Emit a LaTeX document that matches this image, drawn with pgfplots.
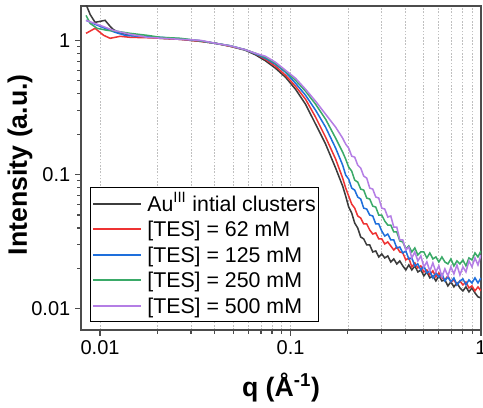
\documentclass[border=0pt]{standalone}
\usepackage{fontspec}
\setmainfont{Liberation Sans}
\usepackage{pgfplots}
\pgfplotsset{compat=1.18}
\definecolor{cBlack}{HTML}{3C3C3C}
\definecolor{cRed}{HTML}{EE3333}
\definecolor{cBlue}{HTML}{1E6FDC}
\definecolor{cGreen}{HTML}{3AAA68}
\definecolor{cPurple}{HTML}{B47EE5}
\begin{document}
\begin{tikzpicture}
\begin{axis}[
  scale only axis, width=300pt, height=243pt,
  xmode=log, ymode=log,
  xmin=0.00794, xmax=1, ymin=0.00698, ymax=1.805,
  xtick={0.01,0.1,1}, xticklabels={0.01,0.1,1},
  ytick={0.01,0.1,1}, yticklabels={0.01,0.1,1},
  /pgf/number format/assume math mode=true,
  tick pos=left, tick align=outside,
  major tick length=4.5pt, minor tick length=2.8pt,
  every tick/.style={black!70, line width=0.9pt},
  axis line style={black!70, line width=1.3pt},
  xminorgrids=true,
  minor x grid style={black!25, line width=0.5pt, dash pattern=on 1.2pt off 1.2pt},
  ticklabel style={font=\fontsize{15}{18}\selectfont},
  xlabel={\textbf{q (Å\textsuperscript{-1})}},
  ylabel={\textbf{Intensity (a.u.)}},
  label style={font=\fontsize{20}{24}\selectfont},
  xlabel style={at={(axis description cs:0.5,-0.178)}, anchor=center},
  ylabel style={at={(axis description cs:-0.1525,0.51)}, anchor=center},
  legend cell align=left,
  legend style={at={(axis description cs:0,0)}, anchor=south west,
    xshift=6.75pt, yshift=6pt, draw=black, line width=0.6pt,
    font=\fontsize{16}{18}\selectfont,
    inner xsep=1.5pt, inner ysep=2.5pt, row sep=0.5pt, column sep=3pt,
    nodes={inner sep=0.7pt, text height=14.25pt, text depth=3pt}},
  legend image code/.code={\draw[#1, line width=1.5pt] (0pt,0pt) -- (36pt,0pt);},
  every axis plot/.append style={line width=1.15pt},
]
\addplot[cBlack] coordinates {
(0.00844,1.852) (0.00886,1.561) (0.00941,1.361) (0.0100,1.384) (0.01062,1.409) (0.01129,1.271) (0.01171,1.207) (0.01244,1.147) (0.01321,1.127) (0.01438,1.089) (0.01624,1.071) (0.02069,1.035) (0.02637,1.017) (0.0336,0.983) (0.0403,0.950) (0.04833,0.902) (0.05797,0.843) (0.06542,0.780) (0.07386,0.704) (0.0834,0.619) (0.09413,0.531) (0.1062,0.432) (0.1199,0.334) (0.1354,0.2374) (0.1528,0.1686) (0.1725,0.1118) (0.1878,0.0821)
(0.1948,0.0692) (0.2020,0.0573) (0.2095,0.0517) (0.2172,0.0436) (0.2253,0.0400) (0.2336,0.0343) (0.2422,0.0332) (0.2512,0.02993) (0.2605,0.02993) (0.2702,0.02655) (0.2802,0.02701) (0.2905,0.02437) (0.3013,0.02565) (0.3124,0.02396) (0.3240,0.02479) (0.3360,0.02237) (0.3484,0.02355) (0.3613,0.02162) (0.3747,0.02276) (0.3886,0.02089) (0.4030,0.01951) (0.4179,0.02125) (0.4333,0.01951) (0.4494,0.02089) (0.4660,0.01885) (0.4833,0.01951) (0.5012,0.01761) (0.5197,0.01885) (0.5389,0.01701) (0.5589,0.01761) (0.5796,0.01616) (0.6010,0.01761) (0.6233,0.01616) (0.6463,0.01644) (0.6703,0.01484) (0.6951,0.01589) (0.7208,0.01458) (0.7475,0.01562) (0.7752,0.01434) (0.8039,0.01362) (0.8337,0.01458) (0.8645,0.01339) (0.8965,0.01434) (0.9297,0.01316) (0.9641,0.01229) (1.0,0.01208)
};
\addlegendentry{Au\textsuperscript{III} intial clusters\hspace{6.5pt}}
\addplot[cRed] coordinates {
(0.00844,1.127) (0.00941,1.228) (0.01044,1.089) (0.01129,1.035) (0.01274,1.071) (0.01438,1.053) (0.01833,1.044) (0.02069,1.035) (0.02637,1.017) (0.0336,0.983) (0.0403,0.950) (0.04833,0.902) (0.05797,0.850) (0.06542,0.794) (0.07386,0.722) (0.0834,0.641) (0.09413,0.549) (0.1062,0.455) (0.1199,0.364) (0.1354,0.2676) (0.1528,0.1900) (0.1725,0.1304) (0.1878,0.0942)
(0.1948,0.0794) (0.2020,0.0692) (0.2095,0.0603) (0.2172,0.0563) (0.2253,0.0492) (0.2336,0.0475) (0.2422,0.0429) (0.2512,0.0429) (0.2605,0.0387) (0.2702,0.0361) (0.2802,0.0368) (0.2905,0.0332) (0.3013,0.0332) (0.3124,0.03044) (0.3240,0.03150) (0.3360,0.02942) (0.3484,0.02747) (0.3613,0.02892) (0.3747,0.02655) (0.3886,0.02610) (0.4030,0.02315) (0.4179,0.02396) (0.4333,0.02054) (0.4494,0.02199) (0.4660,0.02019) (0.4833,0.02089) (0.5012,0.01885) (0.5197,0.01951) (0.5389,0.01791) (0.5589,0.01918) (0.5796,0.01731) (0.6010,0.01853) (0.6233,0.01701) (0.6463,0.01644) (0.6703,0.01761) (0.6951,0.01589) (0.7208,0.01644) (0.7475,0.01509) (0.7752,0.01616) (0.8039,0.01509) (0.8337,0.01589) (0.8645,0.01434) (0.8965,0.01484) (0.9297,0.01362) (0.9641,0.01458) (1.0,0.01362)
};
\addlegendentry{[TES] = 62 mM}
\addplot[cBlue] coordinates {
(0.00844,1.409) (0.00941,1.315) (0.01062,1.228) (0.01199,1.147) (0.01354,1.089) (0.01624,1.071) (0.02069,1.053) (0.02637,1.026) (0.0336,0.9915) (0.0403,0.950) (0.04833,0.910) (0.05797,0.850) (0.06542,0.794) (0.07386,0.735) (0.0834,0.663) (0.09413,0.578) (0.1062,0.479) (0.1199,0.390) (0.1354,0.3017) (0.1528,0.2255) (0.1725,0.1574) (0.1878,0.1177)
(0.1948,0.0992) (0.2020,0.0926) (0.2095,0.0794) (0.2172,0.0767) (0.2253,0.0681) (0.2336,0.0658) (0.2422,0.0563) (0.2512,0.0554) (0.2605,0.0500) (0.2702,0.0492) (0.2802,0.0429) (0.2905,0.0429) (0.3013,0.0380) (0.3124,0.0349) (0.3240,0.0361) (0.3360,0.0326) (0.3484,0.0326) (0.3613,0.02843) (0.3747,0.02892) (0.3886,0.02610) (0.4030,0.02701) (0.4179,0.02355) (0.4333,0.02396) (0.4494,0.02089) (0.4660,0.02162) (0.4833,0.01951) (0.5012,0.02089) (0.5197,0.01853) (0.5389,0.01918) (0.5589,0.01701) (0.5796,0.01853) (0.6010,0.01731) (0.6233,0.01822) (0.6463,0.01616) (0.6703,0.01731) (0.6951,0.01589) (0.7208,0.01701) (0.7475,0.01509) (0.7752,0.01616) (0.8039,0.01672) (0.8337,0.01509) (0.8645,0.01644) (0.8965,0.01562) (0.9297,0.01701) (0.9641,0.01562) (1.0,0.01701)
};
\addlegendentry{[TES] = 125 mM}
\addplot[cGreen] coordinates {
(0.00844,1.534) (0.00886,1.338) (0.00964,1.228) (0.01088,1.187) (0.01229,1.167) (0.01438,1.127) (0.01768,1.089) (0.02069,1.053) (0.02637,1.035) (0.0336,0.9915) (0.0403,0.950) (0.04833,0.910) (0.05797,0.850) (0.06542,0.8005) (0.07386,0.7475) (0.0834,0.6746) (0.09413,0.5883) (0.1062,0.5042) (0.1199,0.4176) (0.1354,0.3343) (0.1528,0.2586) (0.1725,0.1868) (0.1878,0.1470)
(0.1948,0.1304) (0.2020,0.1137) (0.2095,0.1062) (0.2172,0.0910) (0.2253,0.0880) (0.2336,0.0780) (0.2422,0.0767) (0.2512,0.0669) (0.2605,0.0658) (0.2702,0.0583) (0.2802,0.0573) (0.2905,0.0500) (0.3013,0.0500) (0.3124,0.0451) (0.3240,0.0421) (0.3360,0.0421) (0.3484,0.0374) (0.3613,0.0374) (0.3747,0.0321) (0.3886,0.0315) (0.4030,0.02795) (0.4179,0.02942) (0.4333,0.02655) (0.4494,0.02843) (0.4660,0.02522) (0.4833,0.02655) (0.5012,0.02655) (0.5197,0.02396) (0.5389,0.02610) (0.5589,0.02355) (0.5796,0.02437) (0.6010,0.02237) (0.6233,0.02437) (0.6463,0.02237) (0.6703,0.02162) (0.6951,0.02355) (0.7208,0.02089) (0.7475,0.02276) (0.7752,0.02162) (0.8039,0.02315) (0.8337,0.02089) (0.8645,0.02396) (0.8965,0.02315) (0.9297,0.02610) (0.9641,0.02437) (1.0,0.02701)
};
\addlegendentry{[TES] = 250 mM}
\addplot[cPurple] coordinates {
(0.00844,1.409) (0.0100,1.293) (0.01171,1.187) (0.01438,1.108) (0.01768,1.053) (0.02146,1.035) (0.02637,1.017) (0.0336,1.0) (0.0403,0.950) (0.04833,0.910) (0.05797,0.850) (0.06542,0.8005) (0.07386,0.7604) (0.0834,0.6862) (0.09413,0.5984) (0.1062,0.5218) (0.1199,0.4322) (0.1354,0.3519) (0.1528,0.2817) (0.1725,0.2255) (0.1878,0.1868)
(0.1948,0.1686) (0.2020,0.1574) (0.2095,0.1373) (0.2172,0.1349) (0.2253,0.1177) (0.2336,0.1118) (0.2422,0.0975) (0.2512,0.0942) (0.2605,0.0794) (0.2702,0.0780) (0.2802,0.0681) (0.2905,0.0669) (0.3013,0.0563) (0.3124,0.0554) (0.3240,0.0483) (0.3360,0.0492) (0.3484,0.0407) (0.3613,0.0407) (0.3747,0.0326) (0.3886,0.0326) (0.4030,0.02747) (0.4179,0.02892) (0.4333,0.02396) (0.4494,0.02655) (0.4660,0.02276) (0.4833,0.02479) (0.5012,0.02054) (0.5197,0.02237) (0.5389,0.01918) (0.5589,0.02199) (0.5796,0.01885) (0.6010,0.02089) (0.6233,0.01731) (0.6463,0.01985) (0.6703,0.01761) (0.6951,0.02054) (0.7208,0.01822) (0.7475,0.02125) (0.7752,0.01791) (0.8039,0.02054) (0.8337,0.01885) (0.8645,0.02276) (0.8965,0.02054) (0.9297,0.02396) (0.9641,0.02125) (1.0,0.02522)
};
\addlegendentry{[TES] = 500 mM}
\end{axis}
\pgfresetboundingbox
\path[use as bounding box] ([shift={(-60.75pt,-58.5pt)}]current axis.south west) rectangle ([shift={(1.5pt,4.4pt)}]current axis.north east);
\end{tikzpicture}
\end{document}
